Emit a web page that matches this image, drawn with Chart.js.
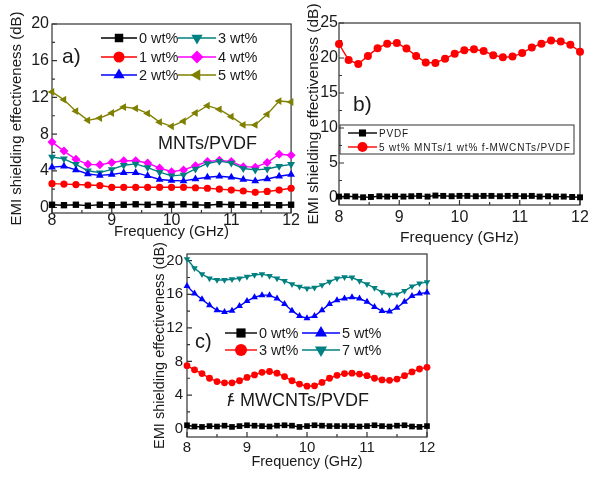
<!DOCTYPE html>
<html>
<head>
<meta charset="utf-8">
<script src="https://cdn.jsdelivr.net/npm/chart.js@4.4.0/dist/chart.umd.min.js"></script>
<style>
  body { margin: 0; background: #fff; width: 600px; height: 489px; position: relative; overflow: hidden; }
  canvas { position: absolute; }
</style>
</head>
<body>
<canvas id="chartA" width="300" height="245" style="left:0;top:0"></canvas>
<canvas id="chartB" width="300" height="250" style="left:300px;top:0"></canvas>
<canvas id="chartC" width="320" height="249" style="left:140px;top:240px"></canvas>
<script>
// ---- data ----
// panel a) MNTs/PVDF
var freqA = [8, 8.2, 8.4, 8.6, 8.8, 9, 9.2, 9.4, 9.6, 9.8, 10, 10.2, 10.4, 10.6, 10.8, 11, 11.2, 11.4, 11.6, 11.8, 12];
var a0 = [0.3, 0.25, 0.3, 0.2, 0.3, 0.25, 0.3, 0.35, 0.3, 0.35, 0.3, 0.35, 0.3, 0.25, 0.35, 0.3, 0.3, 0.25, 0.3, 0.25, 0.3];
var a1 = [2.6, 2.55, 2.5, 2.45, 2.4, 2.2, 2.2, 2.2, 2.2, 2.2, 2.2, 2.2, 2.15, 2.1, 2.0, 1.9, 1.8, 1.65, 1.75, 1.9, 2.1];
var a2 = [4.4, 4.5, 4.1, 3.65, 3.5, 3.6, 3.8, 3.8, 3.45, 3.05, 2.95, 2.9, 3.1, 3.3, 3.4, 3.3, 3.05, 2.9, 3.1, 3.4, 3.6];
var a3 = [5.5, 5.3, 4.7, 4.0, 3.8, 4.15, 4.6, 4.75, 4.35, 3.85, 3.45, 3.55, 4.2, 4.8, 5.05, 4.85, 4.25, 4.1, 4.2, 4.5, 4.7];
var a4 = [7.15, 6.15, 5.25, 4.7, 4.65, 4.9, 5.1, 5.1, 4.85, 4.3, 3.9, 4.1, 4.55, 5.0, 5.15, 5.0, 4.45, 4.4, 4.9, 5.8, 5.7];
var a5 = [12.6, 11.75, 10.5, 9.5, 9.75, 10.3, 10.95, 10.8, 10.25, 9.3, 8.85, 9.4, 10.3, 11.1, 10.7, 9.9, 9.0, 9.0, 10.15, 11.6, 11.5];

// panel b) PVDF vs hybrid
var freqB1 = [8, 8.13, 8.27, 8.4, 8.53, 8.67, 8.8, 8.93, 9.07, 9.2, 9.33, 9.47, 9.6, 9.73, 9.87, 10, 10.13, 10.27, 10.4, 10.53, 10.67, 10.8, 10.93, 11.07, 11.2, 11.33, 11.47, 11.6, 11.73, 11.87, 12];
var bPVDF = [0.2, 0.25, 0.2, 0.1, 0.15, 0.25, 0.2, 0.25, 0.2, 0.25, 0.3, 0.2, 0.35, 0.3, 0.25, 0.3, 0.3, 0.25, 0.3, 0.3, 0.25, 0.3, 0.3, 0.25, 0.3, 0.2, 0.25, 0.2, 0.2, 0.15, 0.1];
var freqB2 = [8, 8.16, 8.32, 8.48, 8.64, 8.8, 8.96, 9.12, 9.28, 9.44, 9.6, 9.76, 9.92, 10.08, 10.24, 10.4, 10.56, 10.72, 10.88, 11.04, 11.2, 11.36, 11.52, 11.68, 11.84, 12];
var bHybrid = [22.0, 19.7, 19.15, 20.3, 21.4, 22.05, 22.15, 21.35, 20.3, 19.35, 19.3, 19.9, 20.6, 21.1, 21.25, 21.0, 20.4, 20.1, 20.2, 20.7, 21.5, 22.05, 22.5, 22.35, 21.9, 20.9];

// panel c) f-MWCNTs/PVDF
var freqC = [8, 8.125, 8.25, 8.375, 8.5, 8.625, 8.75, 8.875, 9, 9.125, 9.25, 9.375, 9.5, 9.625, 9.75, 9.875, 10, 10.125, 10.25, 10.375, 10.5, 10.625, 10.75, 10.875, 11, 11.125, 11.25, 11.375, 11.5, 11.625, 11.75, 11.875, 12];
var c0 = [0.4, 0.25, 0.2, 0.3, 0.25, 0.35, 0.2, 0.3, 0.4, 0.35, 0.3, 0.25, 0.35, 0.4, 0.35, 0.2, 0.3, 0.4, 0.35, 0.3, 0.3, 0.3, 0.3, 0.25, 0.3, 0.4, 0.3, 0.25, 0.35, 0.4, 0.25, 0.2, 0.3];
var c3 = [7.5, 7.0, 6.55, 6.0, 5.6, 5.45, 5.45, 5.7, 6.1, 6.4, 6.7, 6.8, 6.6, 6.2, 5.7, 5.3, 5.05, 5.1, 5.5, 6.0, 6.35, 6.55, 6.6, 6.5, 6.3, 6.0, 5.8, 5.75, 5.9, 6.3, 6.75, 7.1, 7.3];
var c5 = [17.0, 16.1, 15.4, 14.7, 14.1, 13.9, 14.05, 14.6, 15.2, 15.65, 15.9, 15.9, 15.5, 14.85, 14.05, 13.4, 13.15, 13.4, 14.1, 14.85, 15.3, 15.5, 15.65, 15.5, 15.1, 14.5, 14.0, 13.95, 14.4, 15.1, 15.8, 16.1, 16.2];
var c7 = [20.2, 19.1, 18.4, 17.9, 17.7, 17.7, 17.8, 17.9, 18.1, 18.3, 18.4, 18.2, 17.9, 17.6, 17.2, 16.9, 16.7, 16.8, 17.1, 17.5, 17.9, 18.05, 18.0, 17.6, 17.2, 16.75, 16.25, 15.95, 16.0, 16.4, 16.95, 17.3, 17.45];

// ticks
var xTicks = [8, 9, 10, 11, 12];
var xMinor = [8.5, 9.5, 10.5, 11.5];
var yTicksA = [0, 4, 8, 12, 16, 20];
var yMinorA = [2, 6, 10, 14, 18];
var yTicksB = [0, 5, 10, 15, 20, 25];
var yMinorB = [2.5, 7.5, 12.5, 17.5, 22.5];
var yTicksC = [0, 4, 8, 12, 16, 20];
var yMinorC = [2, 6, 10, 14, 18];

var FONT = '"Liberation Sans", Arial, sans-serif';
var INK = '#1a1a1a';
var BLACK = '#000000', RED = '#ff0000', BLUE = '#0000ff', TEAL = '#008080', MAGENTA = '#ff00ff', OLIVE = '#808000';

function pts(xs, ys) {
  return xs.map(function(x, i) { return { x: x, y: ys[i] }; });
}

function series(label, xs, ys, color, style, radius, rot) {
  return {
    label: label,
    data: pts(xs, ys),
    borderColor: color,
    backgroundColor: color,
    borderWidth: 1.4,
    pointStyle: style,
    pointRadius: radius,
    pointRotation: rot || 0,
    pointBorderWidth: 0,
    pointBackgroundColor: color,
    tension: 0,
    clip: false
  };
}

// frame, inward ticks, legend and labels
var decor = {
  id: 'decor',
  beforeDatasetsDraw: function(chart, args, o) {
    var ctx = chart.ctx, a = chart.chartArea;
    var xs = chart.scales.x, ys = chart.scales.y;
    ctx.save();
    ctx.strokeStyle = '#333';
    ctx.lineWidth = 1.2;
    ctx.strokeRect(a.left, a.top, a.right - a.left, a.bottom - a.top);
    ctx.beginPath();
    xTicks.forEach(function(v) { var p = xs.getPixelForValue(v); ctx.moveTo(p, a.bottom); ctx.lineTo(p, a.bottom - 5); });
    xMinor.forEach(function(v) { var p = xs.getPixelForValue(v); ctx.moveTo(p, a.bottom); ctx.lineTo(p, a.bottom - 3); });
    o.yMajor.forEach(function(v) { var p = ys.getPixelForValue(v); ctx.moveTo(a.left, p); ctx.lineTo(a.left + 5, p); });
    o.yMinor.forEach(function(v) { var p = ys.getPixelForValue(v); ctx.moveTo(a.left, p); ctx.lineTo(a.left + 3, p); });
    ctx.stroke();
    ctx.restore();
  },
  afterDraw: function(chart, args, o) {
    var ctx = chart.ctx;
    ctx.save();
    if (o.box) {
      ctx.strokeStyle = '#333';
      ctx.lineWidth = 1;
      ctx.strokeRect(o.box[0], o.box[1], o.box[2], o.box[3]);
    }
    ctx.textBaseline = 'middle';
    (o.legend || []).forEach(function(it) {
      var ds = chart.data.datasets[it.ds];
      ctx.strokeStyle = ds.borderColor;
      ctx.fillStyle = ds.borderColor;
      ctx.lineWidth = 1.4;
      ctx.beginPath();
      ctx.moveTo(it.x0, it.y);
      ctx.lineTo(it.x1, it.y);
      ctx.stroke();
      Chart.helpers.drawPoint(ctx, { pointStyle: ds.pointStyle, radius: it.r, rotation: ds.pointRotation, borderWidth: 0 }, (it.x0 + it.x1) / 2, it.y);
      ctx.fillStyle = INK;
      ctx.font = o.legendFont + 'px ' + FONT;
      if (o.spacing) ctx.letterSpacing = o.spacing;
      ctx.fillText(ds.label, it.x1 + 2, it.y + 1);
      ctx.letterSpacing = '0px';
    });
    (o.texts || []).forEach(function(t) {
      ctx.fillStyle = INK;
      ctx.font = t.size + 'px ' + FONT;
      ctx.fillText(t.text, t.x, t.y);
    });
    if (o.fLabel) {
      var f = o.fLabel;
      ctx.fillStyle = INK;
      ctx.font = 'italic ' + f.size + 'px ' + FONT;
      ctx.fillText('f', f.x, f.y);
      ctx.font = f.size + 'px ' + FONT;
      ctx.fillText('-', f.x + 2, f.y);
      ctx.fillText('MWCNTs/PVDF', f.x + 13, f.y);
    }
    ctx.restore();
  }
};

function axisOptions(p) {
  return {
    responsive: false,
    animation: false,
    layout: { padding: { top: p.padTop, right: p.padRight, left: 0, bottom: 0 } },
    plugins: {
      legend: { display: false },
      tooltip: { enabled: false },
      decor: p.decor
    },
    scales: {
      x: {
        type: 'linear', min: 8, max: 12,
        afterBuildTicks: function(s) { s.ticks = xTicks.map(function(v) { return { value: v }; }); },
        afterFit: function(s) { s.height = p.xh; },
        grid: { display: false, drawTicks: false },
        border: { display: false },
        ticks: { color: INK, padding: p.xPad, font: { family: FONT, size: p.tick, lineHeight: 1 } },
        title: { display: true, text: 'Frequency (GHz)', color: INK, padding: { top: 0, bottom: p.xTitlePad }, font: { family: FONT, size: p.title, lineHeight: 1.2 } }
      },
      y: {
        type: 'linear', min: p.yMin, max: p.yMax,
        afterBuildTicks: function(s) { s.ticks = p.yTicks.map(function(v) { return { value: v }; }); },
        afterFit: function(s) { s.width = p.yw; },
        grid: { display: false, drawTicks: false },
        border: { display: false },
        ticks: { color: INK, padding: p.yPad, font: { family: FONT, size: p.tick } },
        title: { display: true, text: 'EMI shielding effectiveness (dB)', color: INK, padding: { top: p.yTitlePad, bottom: 0 }, font: { family: FONT, size: p.title, lineHeight: 1.2 } }
      }
    }
  };
}

// panel a
new Chart(document.getElementById('chartA'), {
  type: 'line',
  data: {
    datasets: [
      series('0 wt%', freqA, a0, BLACK, 'rect', 4.5),
      series('1 wt%', freqA, a1, RED, 'circle', 3.6),
      series('2 wt%', freqA, a2, BLUE, 'triangle', 4.5),
      series('3 wt%', freqA, a3, TEAL, 'triangle', 4.5, 180),
      series('4 wt%', freqA, a4, MAGENTA, 'rectRot', 4.5),
      series('5 wt%', freqA, a5, OLIVE, 'triangle', 4.5, 270)
    ]
  },
  options: axisOptions({
    padTop: 24, padRight: 7, xh: 32, yw: 52, yMin: -0.6, yMax: 20, yTicks: yTicksA,
    tick: 16, title: 15, xPad: 0, yPad: 3, xTitlePad: 4, yTitlePad: 8,
    decor: {
      yMajor: yTicksA, yMinor: yMinorA, legendFont: 14.5,
      legend: [
        { ds: 0, x0: 101, x1: 137, y: 38, r: 6 },
        { ds: 1, x0: 101, x1: 137, y: 57, r: 5.5 },
        { ds: 2, x0: 101, x1: 137, y: 75, r: 6.5 },
        { ds: 3, x0: 178, x1: 216, y: 38, r: 6.5 },
        { ds: 4, x0: 178, x1: 216, y: 57, r: 6.5 },
        { ds: 5, x0: 178, x1: 216, y: 75, r: 6.5 }
      ],
      texts: [
        { text: 'a)', x: 62, y: 57, size: 21 },
        { text: 'MNTs/PVDF', x: 158, y: 144, size: 18 }
      ]
    }
  }),
  plugins: [decor]
});

// panel b
new Chart(document.getElementById('chartB'), {
  type: 'line',
  data: {
    datasets: [
      series('PVDF', freqB1, bPVDF, BLACK, 'rect', 4.2),
      series('5 wt% MNTs/1 wt% f-MWCNTs/PVDF', freqB2, bHybrid, RED, 'circle', 4)
    ]
  },
  options: axisOptions({
    padTop: 23, padRight: 20, xh: 45, yw: 39, yMin: -1, yMax: 25, yTicks: yTicksB,
    tick: 16, title: 15.5, xPad: 5, yPad: 1, xTitlePad: 3, yTitlePad: 4,
    decor: {
      yMajor: yTicksB, yMinor: yMinorB, legendFont: 10, spacing: '0.85px',
      box: [40, 125, 234, 29],
      legend: [
        { ds: 0, x0: 48, x1: 77, y: 133, r: 5 },
        { ds: 1, x0: 48, x1: 77, y: 147, r: 5 }
      ],
      texts: [
        { text: 'b)', x: 53, y: 105, size: 21 }
      ]
    }
  }),
  plugins: [decor]
});

// panel c
new Chart(document.getElementById('chartC'), {
  type: 'line',
  data: {
    datasets: [
      series('0 wt%', freqC, c0, BLACK, 'rect', 4),
      series('3 wt%', freqC, c3, RED, 'circle', 3.4),
      series('5 wt%', freqC, c5, BLUE, 'triangle', 4),
      series('7 wt%', freqC, c7, TEAL, 'triangle', 3.8, 180)
    ]
  },
  options: axisOptions({
    padTop: 14, padRight: 33, xh: 52, yw: 47, yMin: -1, yMax: 20.8, yTicks: yTicksC,
    tick: 15, title: 14.5, xPad: 3, yPad: 4, xTitlePad: 18, yTitlePad: 11,
    decor: {
      yMajor: yTicksC, yMinor: yMinorC, legendFont: 14.5,
      legend: [
        { ds: 0, x0: 85, x1: 117, y: 93, r: 6.5 },
        { ds: 1, x0: 85, x1: 117, y: 110, r: 6 },
        { ds: 2, x0: 162, x1: 200, y: 93, r: 7 },
        { ds: 3, x0: 162, x1: 200, y: 110, r: 7 }
      ],
      texts: [
        { text: 'c)', x: 55, y: 102, size: 20 }
      ],
      fLabel: { x: 87, y: 161, size: 18 }
    }
  }),
  plugins: [decor]
});
</script>
</body>
</html>
